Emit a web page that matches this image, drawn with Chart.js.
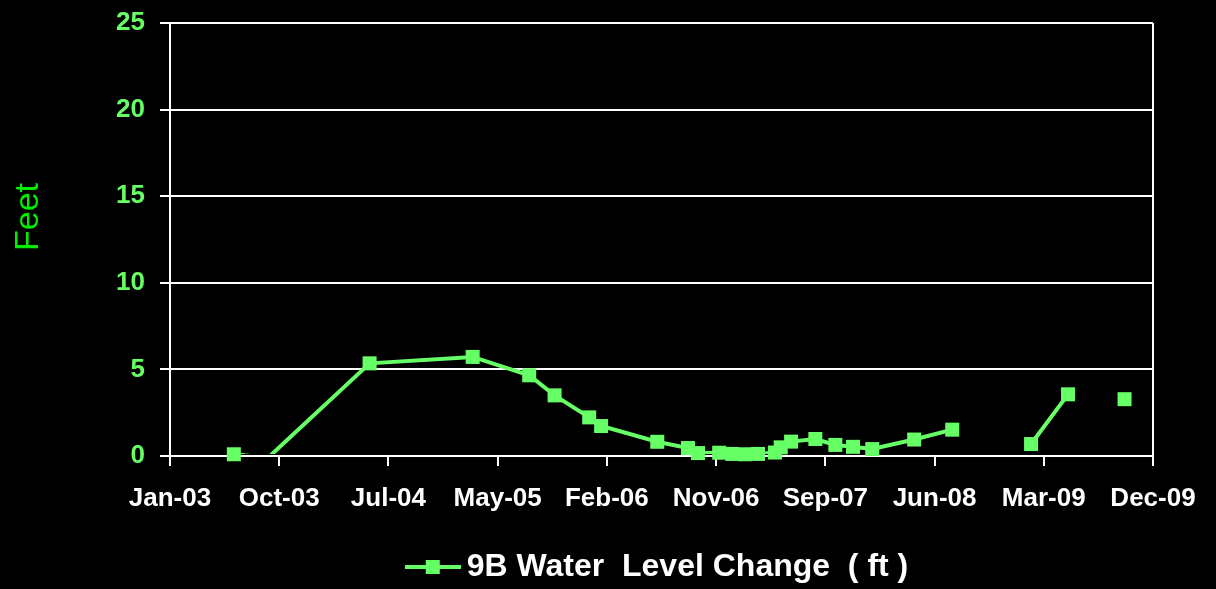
<!DOCTYPE html>
<html>
<head>
<meta charset="utf-8">
<script src="https://cdn.jsdelivr.net/npm/chart.js@4/dist/chart.umd.min.js"></script>
<style>
html,body{margin:0;padding:0;background:#000;}
#wrap{width:1216px;height:589px;}
</style>
</head>
<body>
<div id="wrap"><canvas id="chart"></canvas></div>
<script>
// sample dates and water level change (ft)
const sampleDates = ["2003-06-16","2003-09-13","2004-06-03","2005-02-26","2005-07-23","2005-09-27",
"2005-12-26","2006-01-26","2006-06-21","2006-09-09","2006-10-05","2006-11-29","2007-01-02",
"2007-02-04","2007-03-10","2007-04-23","2007-05-08","2007-06-04","2007-08-06","2007-09-27",
"2007-11-12","2008-01-01","2008-04-19","2008-07-27","2008-11-01","2009-02-17","2009-05-24",
"2009-08-01","2009-10-18"];
const levelChange = [0.1,-0.1,5.35,5.72,4.66,3.5,2.23,1.73,0.82,0.46,0.17,0.19,0.12,
0.1,0.12,0.2,0.5,0.83,0.98,0.64,0.53,0.4,0.95,1.52,null,0.69,3.56,null,3.28];

const seriesName = "9B Water  Level Change  ( ft )";
const axisStart = "2003-01-01";
const tickStepDays = 284;
const xTickLabels = ["Jan-03","Oct-03","Jul-04","May-05","Feb-06","Nov-06","Sep-07","Jun-08","Mar-09","Dec-09"];
const yMin = 0, yMax = 25, yStep = 5;
const yTitle = "Feet";

const green = "#66ff66";
const font = "'Liberation Sans', Arial, sans-serif";

function dayOf(d){
return (Date.parse(d) - Date.parse(axisStart)) / 86400000;
}

let linePts = sampleDates.map((d,i)=>({x: dayOf(d), y: levelChange[i]}));
// markers below the axis are cut off, like in the original
let markerPts = sampleDates.map((d,i)=>({x: dayOf(d), y: levelChange[i]!==null && levelChange[i]<yMin ? null : levelChange[i]}));

// legend icon: short line with a square marker
let icon = document.createElement("canvas");
icon.width = 56; icon.height = 16;
let ic = icon.getContext("2d");
ic.fillStyle = green;
ic.fillRect(0,6,56,4);
ic.fillRect(21,1,14,14);

const yTitlePlugin = {
id: "yTitle",
afterDraw(chart){
let c = chart.ctx;
c.save();
c.translate(29, 217);
c.rotate(-Math.PI/2);
c.font = "34px " + font;
c.fillStyle = "#00ee00";
c.textAlign = "center";
c.textBaseline = "middle";
c.fillText(yTitle, 0, 0);
c.restore();
}
};

const lastTick = xTickLabels.length - 1;

new Chart(document.getElementById("chart"), {
type: "line",
data: {
datasets: [
{
label: seriesName,
data: markerPts,
showLine: false,
pointStyle: "rect",
pointRadius: 9.9,
pointHoverRadius: 9.9,
pointBackgroundColor: green,
pointBorderWidth: 0,
clip: false,
order: 0
},
{
label: seriesName,
data: linePts,
borderColor: green,
borderWidth: 4,
pointRadius: 0,
spanGaps: false,
clip: {left: 0, top: 0, right: 0, bottom: -2},
order: 1
}
]
},
options: {
responsive: true,
maintainAspectRatio: false,
animation: false,
events: [],
layout: {padding: {left: 0, right: 63, top: 23, bottom: -4}},
plugins: {
tooltip: {enabled: false},
legend: {
position: "bottom",
fullSize: false,
labels: {
usePointStyle: true,
pointStyleWidth: 36,
padding: 10,
color: "#fff",
font: {family: font, size: 32, weight: "bold"},
generateLabels: () => [{
text: seriesName,
pointStyle: icon,
fillStyle: green,
strokeStyle: green,
lineWidth: 0,
hidden: false,
datasetIndex: 1,
fontColor: "#fff"
}]
}
}
},
scales: {
x: {
type: "linear",
min: 0,
max: tickStepDays * lastTick,
afterFit: s => { s.height = 85; },
grid: {
drawOnChartArea: true,
color: c => c.index === lastTick ? "#fff" : "rgba(0,0,0,0)",
tickColor: "#fff",
lineWidth: 2,
tickLength: 10
},
border: {display: true, color: "#fff", width: 2},
ticks: {
stepSize: tickStepDays,
autoSkip: false,
maxRotation: 0,
padding: 17,
color: "#fff",
font: {family: font, size: 26, weight: "bold"},
callback: v => xTickLabels[Math.round(v / tickStepDays)]
}
},
y: {
min: yMin,
max: yMax,
afterFit: s => { s.width = 170; },
grid: {color: "#fff", lineWidth: 2, tickLength: 10},
border: {display: true, color: "#fff", width: 2},
ticks: {
stepSize: yStep,
padding: 15,
color: green,
font: {family: font, size: 26, weight: "bold", lineHeight: 0.6}
}
}
}
},
plugins: [yTitlePlugin]
});
</script>
</body>
</html>
